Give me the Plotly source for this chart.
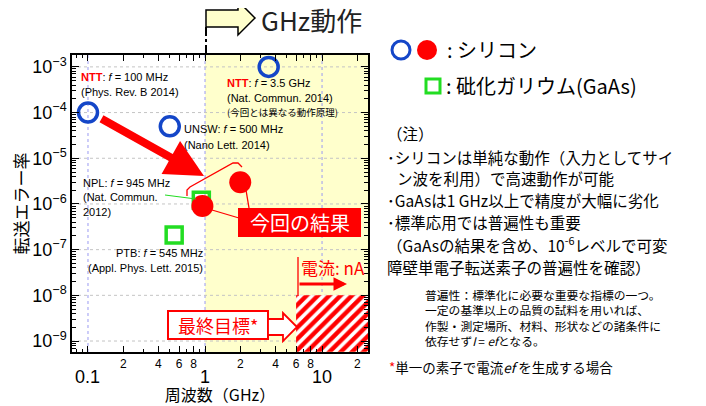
import plotly.graph_objects as go
import numpy as np

# ---- data ----
si_prev_freq = [0.1, 0.5, 3.5]          # GHz, open circles (earlier silicon results)
si_prev_err = [1e-4, 5e-5, 1e-3]
si_new_freq = [0.95, 2.0]               # GHz, filled circles (this work)
si_new_err = [9e-7, 3e-6]
gaas_freq = [0.93, 0.545]               # GHz, GaAs squares
gaas_err = [1.2e-6, 2.1e-7]

target_freq = [6, 24.7]                 # final target region
target_err = [5.8e-10, 1e-8]

x_major_vals = [0.1, 1, 10]
x_major_text = ['0.1', '1', '10']
x_label_vals = [0.2, 0.4, 0.6, 0.8, 2, 4, 6, 8, 20]
x_label_text = ['2', '4', '6', '8', '2', '4', '6', '8', '2']
y_decades = [-9, -8, -7, -6, -5, -4, -3]

# ---- geometry of the plot area in pixels (page coords) ----
PAGE_W, PAGE_H = 706, 406
OFF = 8                                  # body margin of the html page
L, R, T, B = 72, 368, 55, 352
XR = [np.log10(0.073), np.log10(24.7)]
YR = [-9.24, -2.74]

def px(x):
  return (x - L) / (R - L)

def py(y):
  return (B - y) / (B - T)

def path(pts, close=True):
  s = 'M ' + ' L '.join(f'{px(a):.4f},{py(b):.4f}' for a, b in pts)
  return s + (' Z' if close else '')

JP = 'Noto Sans CJK JP'
LAT = 'Liberation Sans, Noto Sans CJK JP'
BLUE = '#1446C8'
RED = '#FF0000'
GREEN = '#22DD22'

fig = go.Figure()

# target (hatched)
fig.add_trace(go.Scatter(
  x=[target_freq[0], target_freq[1], target_freq[1], target_freq[0], target_freq[0]],
  y=[target_err[0], target_err[0], target_err[1], target_err[1], target_err[0]],
  mode='lines', fill='toself', line=dict(width=0),
  fillcolor='white',
  fillpattern=dict(shape='/', fgcolor=RED, fgopacity=1, bgcolor='white', size=8, solidity=0.55),
  hoverinfo='skip', showlegend=False,
))
fig.add_trace(go.Scatter(
  x=si_prev_freq, y=si_prev_err, mode='markers', showlegend=False,
  marker=dict(symbol='circle-open', size=19, color=BLUE, line=dict(width=3.5, color=BLUE)),
))
fig.add_trace(go.Scatter(
  x=gaas_freq, y=gaas_err, mode='markers', showlegend=False,
  marker=dict(symbol='square-open', size=16, color=GREEN, line=dict(width=3.5, color=GREEN)),
))
fig.add_trace(go.Scatter(
  x=si_new_freq, y=si_new_err, mode='markers', showlegend=False,
  marker=dict(symbol='circle', size=22, color=RED),
))

shapes = []
# GHz region
shapes.append(dict(type='rect', xref='x', yref='y domain', x0=1, x1=10 ** XR[1], y0=0, y1=1,
                   fillcolor='#FFFFCC', line=dict(width=0), layer='below'))
# grid
for v in x_major_vals:
  shapes.append(dict(type='line', xref='x', yref='y domain', x0=v, x1=v, y0=0, y1=1,
                     line=dict(color='#9A9AF2', width=1, dash='dot'), layer='below'))
for d in y_decades:
  shapes.append(dict(type='line', xref='x domain', yref='y', x0=0, x1=1, y0=10.0 ** d, y1=10.0 ** d,
                     line=dict(color='#C4C4C4', width=1, dash='dot'), layer='below'))

# GHz arrow at top
shapes.append(dict(type='path', xref='paper', yref='paper',
                   path=path([(206, 10), (238, 10), (238, 1), (255, 18), (238, 35), (238, 27), (206, 27)]),
                   fillcolor='#FFFFCC', line=dict(color='black', width=1.5)))
shapes.append(dict(type='line', xref='paper', yref='paper', x0=px(206), x1=px(206), y0=py(27), y1=py(55),
                   line=dict(color='black', width=2, dash='dashdot')))

# callout for this work
shapes.append(dict(type='path', xref='paper', yref='paper',
                   path=path([(187, 196), (187, 190), (190, 187), (233, 163), (238, 163), (242, 167)], close=False),
                   line=dict(color=RED, width=1.3)))
shapes.append(dict(type='line', xref='paper', yref='paper', x0=px(212), y0=py(210), x1=px(239), y1=py(218),
                   line=dict(color=RED, width=1.3)))
shapes.append(dict(type='line', xref='paper', yref='paper', x0=px(246), y0=py(190), x1=px(249), y1=py(208),
                   line=dict(color=RED, width=1.3)))
shapes.append(dict(type='rect', xref='paper', yref='paper', x0=px(238), x1=px(361), y0=py(237), y1=py(208),
                   fillcolor=RED, line=dict(width=0)))
# NPL pointer
shapes.append(dict(type='line', xref='paper', yref='paper', x0=px(165), y0=py(195), x1=px(196), y1=py(199),
                   line=dict(color=GREEN, width=1)))

# final target box + arrow
shapes.append(dict(type='rect', xref='paper', yref='paper', x0=px(168), x1=px(268), y0=py(339), y1=py(311),
                   fillcolor='white', line=dict(color=RED, width=2)))
shapes.append(dict(type='path', xref='paper', yref='paper',
                   path=path([(268, 319), (283, 319), (283, 313), (297, 327), (283, 341), (283, 335), (268, 335)]),
                   fillcolor='white', line=dict(color=RED, width=1.8)))
# current nA
shapes.append(dict(type='line', xref='paper', yref='paper', x0=px(298), x1=px(298), y0=py(257), y1=py(296),
                   line=dict(color=RED, width=1.3)))

# legend markers
shapes.append(dict(type='circle', xref='paper', yref='paper', x0=px(392), x1=px(410), y0=py(59), y1=py(41),
                   line=dict(color=BLUE, width=3)))
shapes.append(dict(type='circle', xref='paper', yref='paper', x0=px(417), x1=px(437), y0=py(60), y1=py(40),
                   fillcolor=RED, line=dict(width=0)))
shapes.append(dict(type='rect', xref='paper', yref='paper', x0=px(426), x1=px(440), y0=py(93), y1=py(79),
                   line=dict(color=GREEN, width=3)))

anns = []

def txt(x, y, s, size=12, color='black', font=LAT, xanchor='left'):
  anns.append(dict(xref='paper', yref='paper', x=px(x), y=py(y), text=s, showarrow=False,
                   xanchor=xanchor, yanchor='middle', borderpad=0,
                   font=dict(family=font, size=size, color=color)))

NTT = "<b><span style='color:red'>NTT</span></b>"
txt(80, 77, NTT + ': <i>f</i> = 100 MHz', 11)
txt(80, 92, '(Phys. Rev. B 2014)', 11)
txt(226, 83, NTT + ': <i>f</i> = 3.5 GHz', 11)
txt(226, 98, '(Nat. Commun. 2014)', 11)
txt(226, 112, '(今回とは異なる動作原理)', 9.5, font=JP)
txt(183, 129, 'UNSW: <i>f</i> = 500 MHz', 11)
txt(183, 145, '(Nano Lett. 2014)', 11)
txt(82, 183, 'NPL: <i>f</i> = 945 MHz', 11)
txt(82, 197, '(Nat. Commun.', 11)
txt(82, 212, '2012)', 11)
txt(204, 253, 'PTB: <i>f</i> = 545 MHz', 11, xanchor='right')
txt(204, 268, '(Appl. Phys. Lett. 2015)', 11, xanchor='right')

txt(299.5, 222, '今回の結果', 20, 'white', JP, 'center')
txt(218, 325, '最終目標*', 18, RED, JP, 'center')
txt(300, 267, '電流: nA', 17, RED, JP)
txt(260, 19, 'GHz動作', 26, '#222222', JP)

# x major labels
for v, s in zip(x_major_vals, x_major_text):
  anns.append(dict(xref='x', yref='paper', x=np.log10(v), y=0, yshift=-25, text=s, showarrow=False,
                   xanchor='center', yanchor='middle', font=dict(family=LAT, size=18, color='black')))

# red arrow
anns.append(dict(xref='paper', yref='paper', x=px(204), y=py(176), ax=-104, ay=-58,
                 axref='pixel', ayref='pixel', text='', showarrow=True,
                 arrowhead=2, arrowsize=0.95, arrowwidth=8, arrowcolor=RED))
anns.append(dict(xref='paper', yref='paper', x=px(347), y=py(284), ax=-49, ay=0,
                 text='', showarrow=True, arrowhead=2, arrowsize=0.9, arrowwidth=3, arrowcolor=RED))

# right-hand notes
txt(446, 50, ': シリコン', 20, font=JP)
txt(445, 86, ': 砒化ガリウム(GaAs)', 20, font=JP)
notes = [
  (386, 133, '（注）'),
  (386, 157, '･シリコンは単純な動作（入力としてサイ'),
  (396, 178, 'ン波を利用）で高速動作が可能'),
  (386, 200, '･GaAsは1 GHz以上で精度が大幅に劣化'),
  (386, 222, '･標準応用では普遍性も重要'),
  (386, 244, '（GaAsの結果を含め、10<sup>-6</sup>レベルで可変'),
  (386, 267, '障壁単電子転送素子の普遍性を確認）'),
]
for x, y, s in notes:
  txt(x, y, s, 15.5, font=JP)
small = [
  (424, 294, '普遍性：標準化に必要な重要な指標の一つ。'),
  (424, 309, '一定の基準以上の品質の試料を用いれば、'),
  (424, 325, '作製・測定場所、材料、形状などの諸条件に'),
  (424, 340, '依存せず<i>I</i> = <i>ef</i>となる。'),
]
for x, y, s in small:
  txt(x, y, s, 11.8, font=JP)
txt(388, 367, "<span style='color:red'>*</span>単一の素子で電流<i>ef</i> を生成する場合", 13.5, font=JP)

# ticks
x_all = [m * 10.0 ** e for e in [-2, -1, 0, 1] for m in range(1, 10)]
x_minor = [v for v in x_all if 0.07 < v < 25 and all(abs(v - w) > 1e-9 for w in x_major_vals + x_label_vals)]
y_minor = [m * 10.0 ** e for e in [-10] + y_decades[:-1] for m in range(2, 10)]
y_minor = [v for v in y_minor if v >= 10 ** YR[0]]

fig.update_layout(
  width=PAGE_W - OFF, height=PAGE_H - OFF,
  margin=dict(l=L - OFF, r=PAGE_W - R, t=T - OFF, b=PAGE_H - B, autoexpand=False),
  paper_bgcolor='white', plot_bgcolor='white',
  shapes=shapes, annotations=anns,
  xaxis=dict(
    type='log', range=XR, showgrid=False, zeroline=False, automargin=False,
    tickvals=x_major_vals + x_label_vals, ticktext=['', '', ''] + x_label_text,
    ticks='inside', ticklen=6, tickwidth=1.2, tickcolor='black',
    minor=dict(tickvals=x_minor, ticks='inside', ticklen=3, tickcolor='black', showgrid=False),
    showline=True, linecolor='black', linewidth=1.5, mirror='allticks',
    tickfont=dict(family=LAT, size=12, color='black'),
    title=dict(text='周波数（GHz）', font=dict(family=JP, size=16, color='black'), standoff=25),
  ),
  yaxis=dict(
    type='log', range=YR, showgrid=False, zeroline=False, automargin=False,
    tickvals=[10.0 ** d for d in y_decades],
    ticktext=[f'10<sup>−{-d}</sup>' for d in y_decades],
    ticks='inside', ticklen=7, tickwidth=1.2, tickcolor='black',
    minor=dict(tickvals=y_minor, ticks='inside', ticklen=4, tickcolor='black', showgrid=False),
    showline=True, linecolor='black', linewidth=1.5, mirror='allticks',
    tickfont=dict(family=LAT, size=18, color='black'),
    title=dict(text='転送エラー率', font=dict(family=JP, size=17, color='black'), standoff=0),
  ),
)

fig.write_html('out.html')
